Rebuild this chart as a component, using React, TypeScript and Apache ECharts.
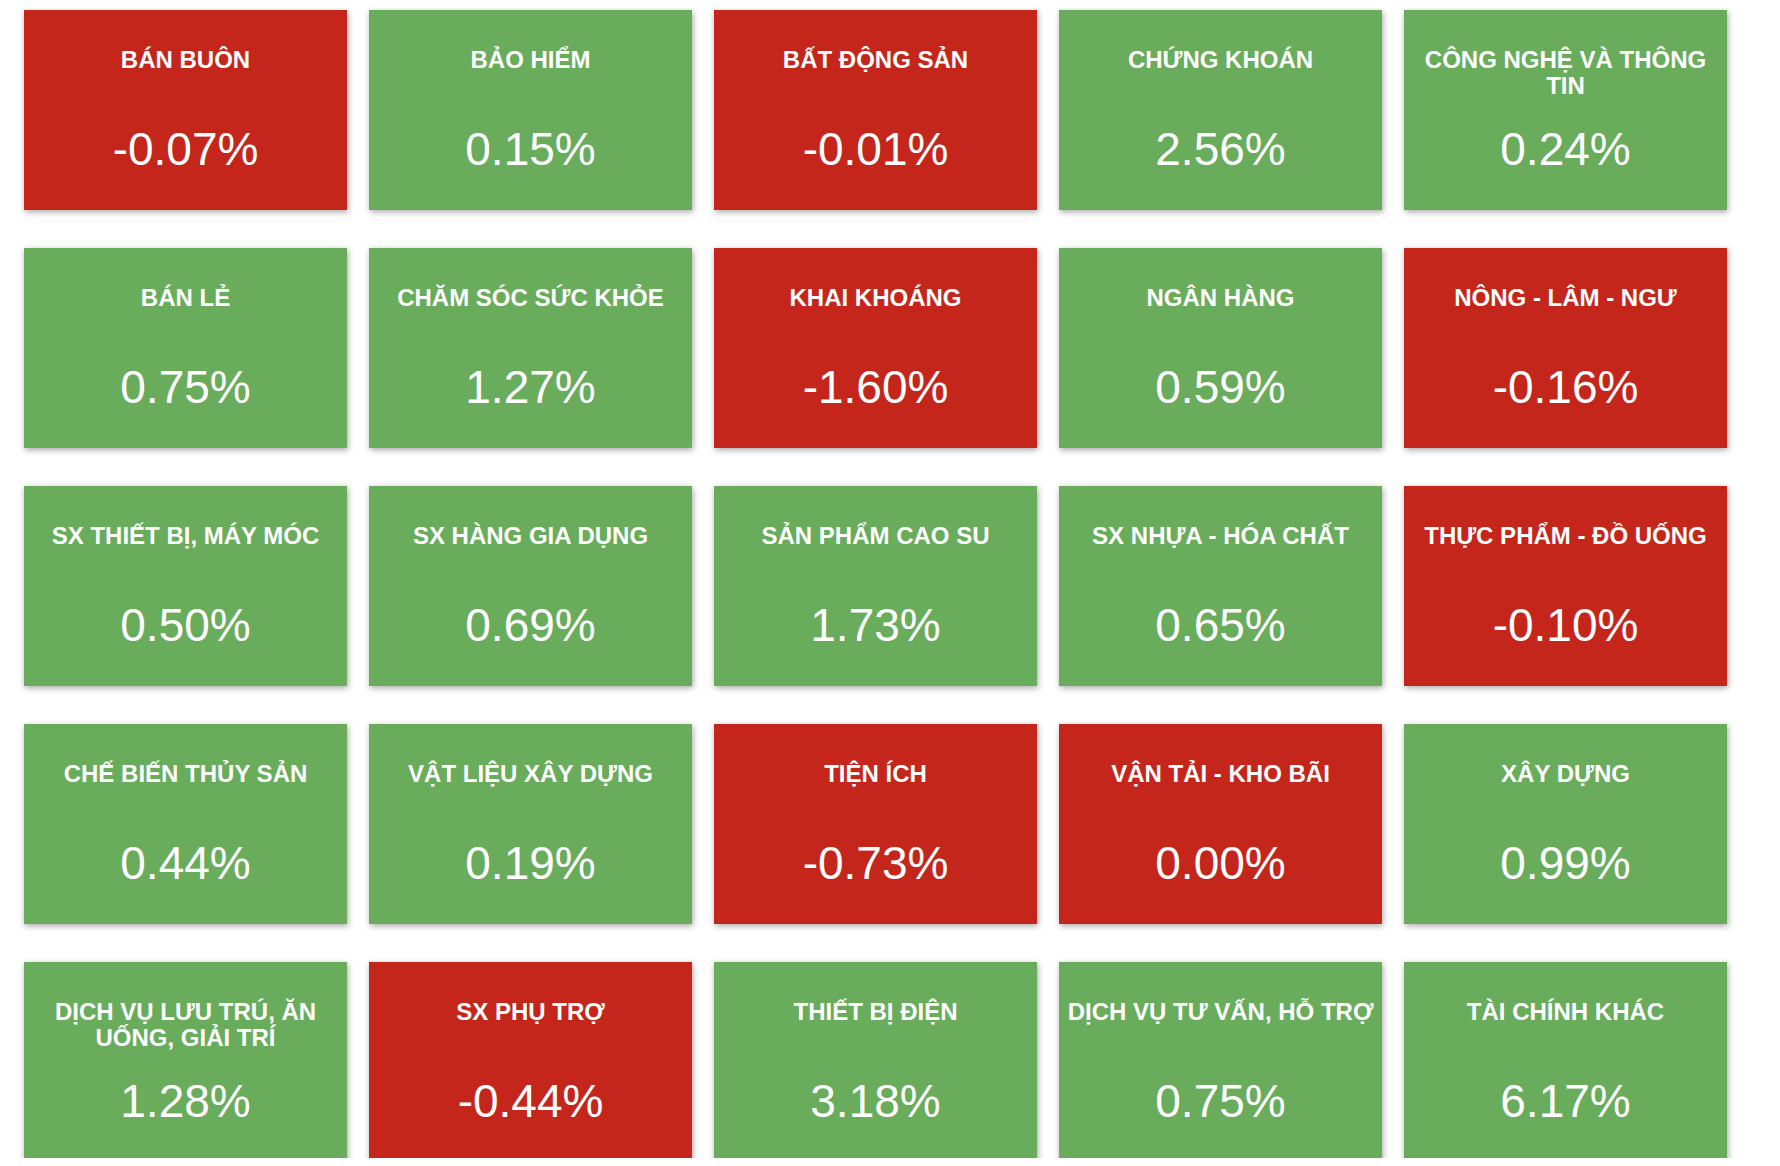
import React, { useEffect, useRef } from "react";
import * as echarts from "echarts";

const sectors: string[] = [
  "BÁN BUÔN", "BẢO HIỂM", "BẤT ĐỘNG SẢN", "CHỨNG KHOÁN", "CÔNG NGHỆ VÀ THÔNG TIN",
  "BÁN LẺ", "CHĂM SÓC SỨC KHỎE", "KHAI KHOÁNG", "NGÂN HÀNG", "NÔNG - LÂM - NGƯ",
  "SX THIẾT BỊ, MÁY MÓC", "SX HÀNG GIA DỤNG", "SẢN PHẨM CAO SU", "SX NHỰA - HÓA CHẤT", "THỰC PHẨM - ĐỒ UỐNG",
  "CHẾ BIẾN THỦY SẢN", "VẬT LIỆU XÂY DỰNG", "TIỆN ÍCH", "VẬN TẢI - KHO BÃI", "XÂY DỰNG",
  "DỊCH VỤ LƯU TRÚ, ĂN UỐNG, GIẢI TRÍ", "SX PHỤ TRỢ", "THIẾT BỊ ĐIỆN", "DỊCH VỤ TƯ VẤN, HỖ TRỢ", "TÀI CHÍNH KHÁC",
];

const changes: number[] = [
  -0.07, 0.15, -0.01, 2.56, 0.24,
  0.75, 1.27, -1.6, 0.59, -0.16,
  0.5, 0.69, 1.73, 0.65, -0.1,
  0.44, 0.19, -0.73, 0.0, 0.99,
  1.28, -0.44, 3.18, 0.75, 6.17,
];

const columns: string[] = ["c0", "c1", "c2", "c3", "c4"];
const rows: string[] = ["r0", "r1", "r2", "r3", "r4"];

const UP = "#67AC5B";
const DOWN = "#C4281C";
const TITLE_FONT = "bold 24px 'Liberation Sans', Arial, Helvetica, sans-serif";
const VALUE_FONT = "normal 46px 'Liberation Sans', Arial, Helvetica, sans-serif";

function wrap(text: string, font: string, maxW: number): string {
  const ctx = document.createElement("canvas").getContext("2d");
  if (!ctx) return text;
  ctx.font = font;
  const words = text.split(" ");
  const lines: string[] = [];
  let cur = "";
  for (const w of words) {
    const test = cur ? cur + " " + w : w;
    if (cur && ctx.measureText(test).width > maxW) {
      lines.push(cur);
      cur = w;
    } else {
      cur = test;
    }
  }
  if (cur) lines.push(cur);
  return lines.join("\n");
}

export default function App() {
  const ref = useRef<HTMLDivElement>(null);
  useEffect(() => {
    if (!ref.current) return;
    const chart = echarts.init(ref.current, undefined, { renderer: "svg" });
    const data = sectors.map((name, i) => [
      columns[i % 5],
      rows[Math.floor(i / 5)],
      changes[i],
      name,
    ]);
    chart.setOption({
      animation: false,
      grid: { left: 16, top: 2, width: 1380, height: 952 },
      xAxis: { type: "category", data: columns, show: false, boundaryGap: false },
      yAxis: { type: "category", data: rows, show: false, inverse: true, boundaryGap: false },
      series: [
        {
          type: "custom",
          data,
          clip: false,
          renderItem: (params: any, api: any) => {
            const c = api.coord([api.value(0), api.value(1)]);
            const bw = api.size([1, 0])[0];
            const bh = api.size([0, 1])[1];
            const x0 = c[0];
            const y0 = c[1];
            const w = bw - 22;
            const h = bh - 38;
            const v = data[params.dataIndex][2] as number;
            const name = data[params.dataIndex][3] as string;
            const color = v > 0 ? UP : DOWN;
            return {
              type: "group",
              children: [
                {
                  type: "rect",
                  shape: { x: x0, y: y0, width: w, height: h },
                  style: {
                    fill: color,
                    shadowBlur: 6,
                    shadowOffsetX: 1,
                    shadowOffsetY: 2,
                    shadowColor: "rgba(0,0,0,0.35)",
                  },
                },
                {
                  type: "text",
                  x: x0 + w / 2,
                  y: y0 + 36.5,
                  style: {
                    text: wrap(name, TITLE_FONT, w - 3),
                    fill: "#ffffff",
                    font: TITLE_FONT,
                    align: "center",
                    verticalAlign: "top",
                    lineHeight: 26,
                  },
                },
                {
                  type: "text",
                  x: x0 + w / 2,
                  y: y0 + 139,
                  style: {
                    text: v.toFixed(2) + "%",
                    fill: "#ffffff",
                    font: VALUE_FONT,
                    align: "center",
                    verticalAlign: "middle",
                  },
                },
              ],
            };
          },
        },
      ],
    });
    return () => chart.dispose();
  }, []);
  return <div ref={ref} style={{ width: 1764, height: 1158, marginBottom: -8 }} />;
}
